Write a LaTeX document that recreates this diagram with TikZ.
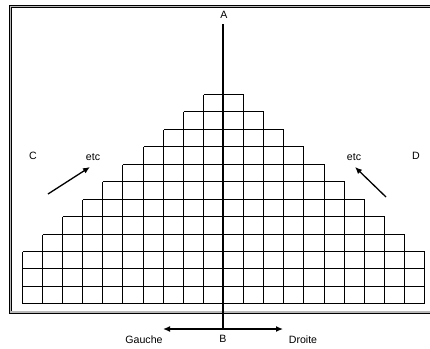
\documentclass[tikz,border=0pt]{standalone}
\usepackage{fontspec}
\setmainfont{Liberation Sans}
\usetikzlibrary{arrows.meta}
\begin{document}
\begin{tikzpicture}[x=1pt,y=-1pt,
  lbl/.style={font=\fontsize{10.6}{12}\selectfont, inner sep=0pt},
  cellline/.style={line width=1.5pt, black},
  axis/.style={line width=2pt, black},
  arr/.style={line width=1.3pt, -{Latex[length=7pt,width=6pt]}},
  frame/.style={line width=0.9pt, double=gray!55, double distance=1.2pt}]
\useasboundingbox (0,0) rectangle (430,348);
\clip (0,0) rectangle (430,348);
% frame
\draw[frame] (10.3,6.8) rectangle (445,312);
% staircase grid
\def\cw{20.1}
\def\ch{17.44}
\def\cx{223}
\def\by{303.3}
% horizontal lines
\foreach \k in {0,...,12}{
  \pgfmathtruncatemacro{\hw}{\k<=3 ? 10 : 13-\k}
  \pgfmathsetmacro{\yy}{round(\by-\k*\ch)+0.5}
  \pgfmathsetmacro{\xl}{round(\cx-\hw*\cw)+0.5}
  \pgfmathsetmacro{\xr}{round(\cx+\hw*\cw)+0.5}
  \draw[cellline] (\xl,\yy) -- (\xr,\yy);
}
% vertical lines
\foreach \m in {1,...,10}{
  \pgfmathtruncatemacro{\n}{13-\m}
  \pgfmathsetmacro{\yt}{round(\by-\n*\ch)+0.5}
  \pgfmathsetmacro{\yb}{round(\by)+0.5}
  \pgfmathsetmacro{\xl}{round(\cx-\m*\cw)+0.5}
  \pgfmathsetmacro{\xr}{round(\cx+\m*\cw)+0.5}
  \draw[cellline] (\xl,\yb) -- (\xl,\yt);
  \draw[cellline] (\xr,\yb) -- (\xr,\yt);
}
% axis
\coordinate (top) at (223,24);
\coordinate (bot) at (223,330);
\draw[axis] (top) -- (bot);
\node[lbl] (A) at (224,15) {A};
\node[lbl] (B) at (223,339) {B};
% left/right arrows
\coordinate (mid) at (223,329);
\coordinate (gl) at (163,329);
\coordinate (dr) at (283,329);
\draw[arr] (mid) -- (gl);
\draw[arr] (mid) -- (dr);
\node[lbl] (gauche) at (144,340) {Gauche};
\node[lbl] (droite) at (303,340) {Droite};
% C, D, etc
\node[lbl] (C) at (33,156) {C};
\node[lbl] (D) at (416,156) {D};
\node[lbl] (etcl) at (93,157) {etc};
\node[lbl] (etcr) at (354,157) {etc};
\coordinate (lt) at (48,194);
\coordinate (lh) at (90,167);
\coordinate (rt) at (386,197);
\coordinate (rh) at (355,167);
\draw[arr] (lt) -- (lh);
\draw[arr] (rt) -- (rh);
\end{tikzpicture}
\end{document}
